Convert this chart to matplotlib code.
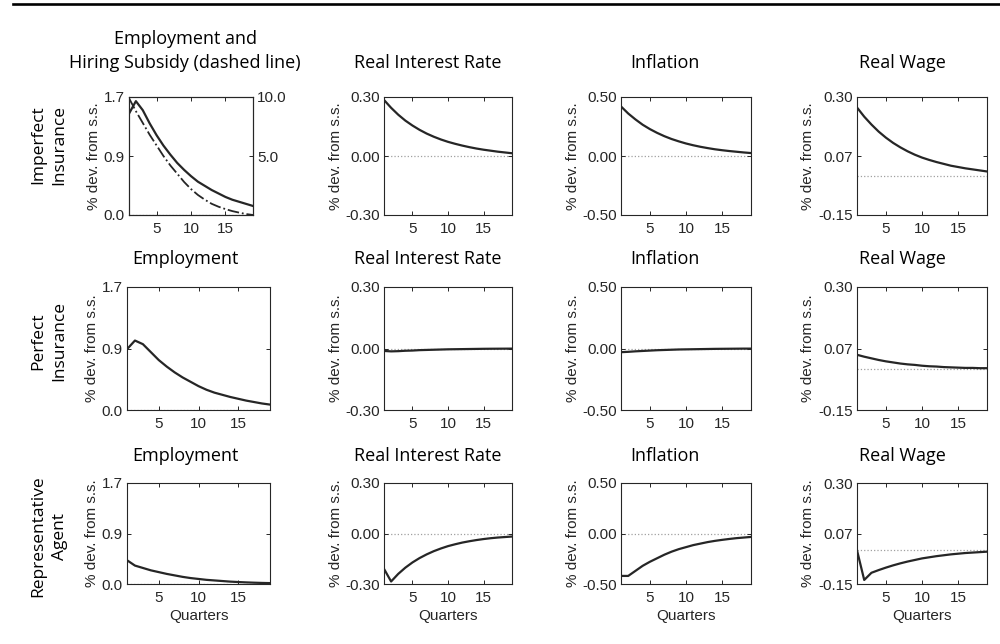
import numpy as np
import matplotlib.pyplot as plt
from matplotlib.lines import Line2D

quarters = np.arange(1, 20)

# Imperfect insurance
emp_imperfect = [1.46, 1.64, 1.51, 1.32, 1.15, 1.00, 0.87, 0.75, 0.65, 0.56,
                 0.48, 0.42, 0.36, 0.31, 0.26, 0.22, 0.19, 0.16, 0.13]
subsidy_imperfect = [9.9, 8.8, 7.8, 6.8, 5.9, 5.0, 4.2, 3.5, 2.8, 2.2,
                     1.7, 1.3, 0.95, 0.7, 0.5, 0.33, 0.2, 0.08, 0.0]
rate_imperfect = [0.285, 0.245, 0.21, 0.18, 0.155, 0.133, 0.114, 0.098, 0.084, 0.072,
                  0.062, 0.053, 0.045, 0.038, 0.032, 0.027, 0.022, 0.018, 0.014]
infl_imperfect = [0.42, 0.36, 0.31, 0.265, 0.228, 0.196, 0.168, 0.144, 0.124, 0.106,
                  0.091, 0.078, 0.067, 0.057, 0.049, 0.042, 0.036, 0.03, 0.025]
wage_imperfect = [0.26, 0.225, 0.195, 0.168, 0.145, 0.125, 0.108, 0.093, 0.08, 0.069,
                  0.06, 0.052, 0.045, 0.038, 0.033, 0.028, 0.024, 0.02, 0.016]

# Perfect insurance
emp_perfect = [0.84, 0.96, 0.91, 0.80, 0.69, 0.60, 0.52, 0.45, 0.39, 0.33,
               0.28, 0.24, 0.21, 0.18, 0.155, 0.13, 0.11, 0.09, 0.075]
rate_perfect = [-0.012, -0.014, -0.013, -0.011, -0.010, -0.008, -0.007, -0.006, -0.005, -0.004,
                -0.0035, -0.003, -0.0025, -0.002, -0.0015, -0.0012, -0.001, -0.0008, -0.0006]
infl_perfect = [-0.03, -0.027, -0.023, -0.02, -0.017, -0.014, -0.012, -0.01, -0.008, -0.007,
                -0.006, -0.005, -0.004, -0.003, -0.0025, -0.002, -0.0015, -0.001, -0.001]
wage_perfect = [0.052, 0.045, 0.039, 0.033, 0.028, 0.024, 0.02, 0.017, 0.015, 0.012,
                0.01, 0.009, 0.007, 0.006, 0.005, 0.004, 0.004, 0.003, 0.003]

# Representative agent
emp_rep = [0.40, 0.31, 0.27, 0.23, 0.20, 0.17, 0.145, 0.12, 0.10, 0.085,
           0.07, 0.06, 0.05, 0.04, 0.033, 0.027, 0.022, 0.018, 0.015]
rate_rep = [-0.21, -0.285, -0.24, -0.203, -0.172, -0.146, -0.124, -0.105, -0.089, -0.075,
            -0.064, -0.054, -0.046, -0.039, -0.033, -0.028, -0.024, -0.021, -0.018]
infl_rep = [-0.42, -0.42, -0.37, -0.32, -0.28, -0.245, -0.21, -0.18, -0.155, -0.135,
            -0.115, -0.1, -0.085, -0.073, -0.063, -0.054, -0.046, -0.04, -0.034]
wage_rep = [0.0, -0.132, -0.1, -0.088, -0.077, -0.067, -0.058, -0.05, -0.043, -0.036,
            -0.031, -0.026, -0.022, -0.018, -0.015, -0.012, -0.01, -0.008, -0.006]

row_names = ['Imperfect\nInsurance', 'Perfect\nInsurance', 'Representative\nAgent']
col_titles = ['Employment', 'Real Interest Rate', 'Inflation', 'Real Wage']
series = [
    [emp_imperfect, rate_imperfect, infl_imperfect, wage_imperfect],
    [emp_perfect, rate_perfect, infl_perfect, wage_perfect],
    [emp_rep, rate_rep, infl_rep, wage_rep],
]
y_limits = [(0, 1.7), (-0.3, 0.3), (-0.5, 0.5), (-0.15, 0.30)]
y_ticklabels = [['0.0', '0.9', '1.7'], ['-0.30', '0.00', '0.30'],
                ['-0.50', '0.00', '0.50'], ['-0.15', '0.07', '0.30']]

W, H = 1000, 644
# axes boxes in pixels: (left, right) per column, (top, bottom) per row
col_px = [(127, 270), (384, 512), (621, 751), (857, 987)]
row_px = [(97, 215), (287, 410), (483, 584)]
title_x = [185, 428, 665, 902]
title_base = [68, 264, 461]
row_label_y = [145, 341, 536]
ylabel_off = [35, 48, 48, 49]

ink = '#262626'
title_font = ['Open Sans', 'DejaVu Sans']
plt.rcParams['font.family'] = ['Liberation Sans', 'DejaVu Sans']

fig = plt.figure(figsize=(10, 6.44), dpi=100)


def style(ax):
    ax.set_xlim(1, 19)
    ax.set_xticks([5, 10, 15])
    ax.tick_params(direction='in', top=True, right=True, length=3, width=0.7,
                   colors=ink, labelsize=11, pad=3)
    ax.tick_params(axis='x', pad=5)
    for s in ax.spines.values():
        s.set_color(ink)
        s.set_linewidth(0.8)


for r in range(3):
    top, bottom = row_px[r]
    for c in range(4):
        left, right = col_px[c]
        if r == 0 and c == 0:
            right = 253
            left = 129
        ax = fig.add_axes([left / W, 1 - bottom / H, (right - left) / W, (bottom - top) / H])
        style(ax)
        lo, hi = y_limits[c]
        ax.set_ylim(lo, hi)
        ax.set_yticks([lo, (lo + hi) / 2, hi])
        ax.set_yticklabels(y_ticklabels[c])
        ax.axhline(0, color='#a0a0a0', ls=':', lw=0.9, zorder=1)
        ax.plot(quarters, series[r][c], color=ink, lw=1.6, zorder=3)
        ax.set_ylabel('% dev. from s.s.', fontsize=11, color=ink, va='center')
        ax.yaxis.set_label_coords(-ylabel_off[c] / (right - left), 0.5)
        if r == 2:
            ax.set_xlabel('Quarters', fontsize=11, color=ink, labelpad=3)
        if r == 0 and c == 0:
            ax.tick_params(right=False)
            ax2 = ax.twinx()
            ax2.set_ylim(0, 10)
            ax2.set_yticks([5, 10])
            ax2.set_yticklabels(['5.0', '10.0'])
            ax2.tick_params(direction='in', length=3, width=0.7, colors=ink,
                            labelsize=11, pad=3)
            for s in ax2.spines.values():
                s.set_color(ink)
                s.set_linewidth(0.8)
            ax2.plot(quarters, subsidy_imperfect, color=ink, lw=1.3, ls='-.')
            # multi-line text with baseline alignment sits on its last line
            fig.text(title_x[c] / W, 1 - title_base[r] / H,
                     'Employment and\nHiring Subsidy (dashed line)',
                     ha='center', va='baseline', fontsize=13, family=title_font,
                     linespacing=1.45, color='black')
        else:
            fig.text(title_x[c] / W, 1 - title_base[r] / H, col_titles[c],
                     ha='center', va='baseline', fontsize=13, family=title_font,
                     color='black')
    fig.text(49 / W, 1 - row_label_y[r] / H, row_names[r], rotation=90,
             ha='center', va='center', fontsize=12.5, family=title_font,
             linespacing=1.45, color='black')

# rule across the top of the page
fig.add_artist(Line2D([13 / W, 1], [1 - 4 / H, 1 - 4 / H], color='black', lw=1.9))

fig.savefig('out.png', dpi=100)
